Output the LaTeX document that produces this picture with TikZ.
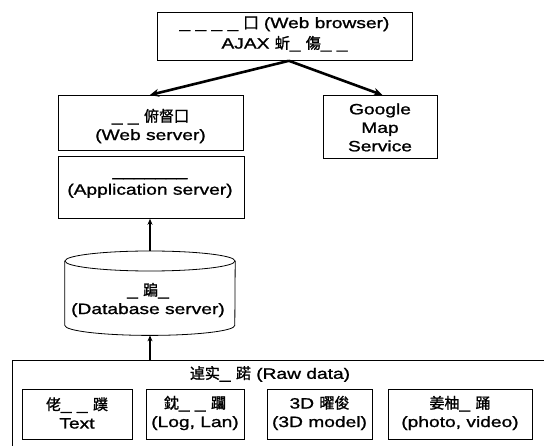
\documentclass[tikz,border=0pt]{standalone}
\usepackage{fontspec}
\setmainfont{Liberation Sans}[FakeStretch=1.28,FakeBold=1.2]
\newfontfamily\cjk{Noto Sans CJK SC}[FakeBold=1.2]
\usetikzlibrary{arrows.meta}
\tikzset{
  box/.style={draw, line width=0.8pt, inner sep=0pt, align=center, anchor=north west},
  txt/.style={inner sep=0pt, align=center},
  bigarrow/.style={line width=2.6pt, -{Stealth[length=9pt,width=8pt]}},
  smallarrow/.style={line width=1.6pt, -{Stealth[length=6pt,width=5pt]}}
}
\begin{document}
\begin{tikzpicture}[x=1pt,y=-1pt,font=\fontsize{15}{18.5}\selectfont]
\useasboundingbox (0,0) rectangle (544,446);
% browser
\node[box, minimum width=255pt, minimum height=48pt] (top) at (157,12) {};
\node[txt] (toplbl) at (284.5,34) {\_\ \_\ \_\ \_\ {\cjk 囗} (Web browser)\\[2pt]AJAX {\cjk 蚚}\_ {\cjk 傷}\_ \_};
% web server
\node[box, minimum width=185pt, minimum height=55pt] (web) at (58,95) {};
\node[txt] (weblbl) at (150.5,126) {\_ \_ {\cjk 俯督囗}\\(Web server)};
% google
\node[box, minimum width=114pt, minimum height=63pt] (google) at (323,95) {};
\node[txt] (googlelbl) at (380,127.5) {Google\\Map\\Service};
% application server
\node[box, minimum width=186pt, minimum height=62pt] (app) at (58,156) {};
\node[txt] (applbl) at (150,187) {\_\_\_\_\_\_\_\\(Application server)};
% database cylinder
\node[inner sep=0pt, minimum width=170pt, minimum height=84pt, anchor=north] (db) at (150,251) {};
\draw[line width=0.8pt] ([yshift=-10pt]db.north) ellipse (85pt and 10pt);
\draw[line width=0.8pt] ([yshift=-10pt]db.north west) -- ([yshift=10pt]db.south west)
  arc (180:360:85pt and 10pt) -- ([yshift=-10pt]db.north east);
\node[txt] (dblbl) at (148,300) {\_ {\cjk 蹁}\_\\(Database server)};
% raw data
\node[box, minimum width=545pt, minimum height=100pt] (raw) at (12,360) {};
\node[txt] (rawlbl) at (270,374) {{\cjk 逴实}\_ {\cjk 蹃} (Raw data)};
\node[box, minimum width=110pt, minimum height=50pt] (t1) at (22,389) {};
\node[txt] (t1lbl) at (77,413) {{\cjk 佬}\_ \_ {\cjk 蹼}\\Text};
\node[box, minimum width=98pt, minimum height=50pt] (t2) at (146,389) {};
\node[txt] (t2lbl) at (195,413) {{\cjk 鈂}\_ \_ {\cjk 躢}\\(Log, Lan)};
\node[box, minimum width=105pt, minimum height=50pt] (t3) at (267,389) {};
\node[txt] (t3lbl) at (319.5,413) {3D {\cjk 曜俊}\\(3D model)};
\node[box, minimum width=144pt, minimum height=50pt] (t4) at (388,389) {};
\node[txt] (t4lbl) at (460,413) {{\cjk 姜柚}\_ {\cjk 踊}\\(photo, video)};
% connectors
\coordinate (topout) at ([xshift=4pt]top.south);
\draw[bigarrow] (topout) -- ([xshift=-1pt]web.north);
\draw[bigarrow] (topout) -- ([xshift=2pt]google.north);
\coordinate (appin) at (app.south -| db.north);
\draw[smallarrow] (db.north) -- (appin);
\draw[smallarrow] (db.south |- raw.north) -- (db.south);
\end{tikzpicture}
\end{document}
